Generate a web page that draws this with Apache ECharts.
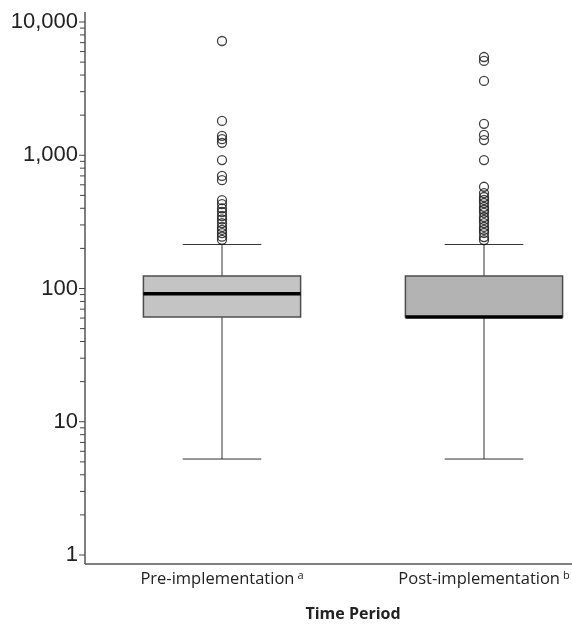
<!DOCTYPE html>
<html>
<head>
<meta charset="utf-8">
<title>Time Period boxplot</title>
<script src="https://cdn.jsdelivr.net/npm/echarts@6/dist/echarts.min.js"></script>
<style>
  html, body { margin: 0; padding: 0; background: #fff; }
  #chart { width: 572px; height: 630px; }
</style>
</head>
<body>
<div id="chart"></div>
<script>
// categories and footnote marks
var categories = ['Pre-implementation', 'Post-implementation'];
var footnotes = ['a', 'b'];
// [lower whisker, Q1, median, Q3, upper whisker]
var preStats = [5.25, 61, 91.5, 124, 214];
var postStats = [5.25, 61, 61, 124, 214];
// outliers
var preOutliers = [7200, 1810, 1400, 1320, 1240, 920, 700, 650, 460, 430, 400, 375, 350, 330, 310, 290, 275, 260, 245, 232];
var postOutliers = [5460, 5100, 3610, 1720, 1420, 1300, 920, 580, 520, 486, 462, 438, 410, 390, 370, 344, 327, 310, 290, 275, 261, 243, 231];
// y axis ticks
var yTicks = [1, 10, 100, 1000, 10000];
var minorSteps = [2, 3, 4, 5, 6, 7, 8, 9];

var boxFills = ['#c4c4c4', '#b3b3b3'];

var boxData = [[0].concat(preStats), [1].concat(postStats)];
var majorTicks = yTicks.map(function (v) { return [0, v]; });
var minorTicks = [];
yTicks.slice(0, -1).forEach(function (d) {
  minorSteps.forEach(function (m) { minorTicks.push([0, d * m]); });
});

function renderBox(params, api) {
  var i = api.value(0);
  var lo = api.coord([i, api.value(1)]);
  var q1 = api.coord([i, api.value(2)]);
  var md = api.coord([i, api.value(3)]);
  var q3 = api.coord([i, api.value(4)]);
  var hi = api.coord([i, api.value(5)]);
  var w = api.size([1, 0])[0] * 0.6;
  var cx = lo[0];
  var ln = { stroke: '#333', lineWidth: 1 };
  return {
    type: 'group',
    children: [
      { type: 'line', shape: { x1: cx, y1: hi[1], x2: cx, y2: q3[1] }, style: ln },
      { type: 'line', shape: { x1: cx, y1: q1[1], x2: cx, y2: lo[1] }, style: ln },
      { type: 'line', shape: { x1: cx - w / 4, y1: hi[1], x2: cx + w / 4, y2: hi[1] }, style: ln },
      { type: 'line', shape: { x1: cx - w / 4, y1: lo[1], x2: cx + w / 4, y2: lo[1] }, style: ln },
      { type: 'rect', shape: { x: cx - w / 2, y: q3[1], width: w, height: q1[1] - q3[1] },
        style: { fill: boxFills[params.dataIndex], stroke: '#4d4d4d', lineWidth: 1.5 } },
      { type: 'line', shape: { x1: cx - w / 2, y1: md[1], x2: cx + w / 2, y2: md[1] },
        style: { stroke: '#000', lineWidth: 3.5 } }
    ]
  };
}

function tickRenderer(len) {
  return function (params, api) {
    var p = api.coord([0, api.value(1)]);
    var ax = params.coordSys.x - 6;
    return { type: 'line', shape: { x1: ax - len, y1: p[1], x2: ax, y2: p[1] },
      style: { stroke: '#444', lineWidth: 1 } };
  };
}

// the L shaped axis frame, which runs a bit past the plot area
function renderFrame(params, api) {
  var cs = params.coordSys;
  var ax = cs.x - 6;
  var bottom = cs.y + cs.height + 9;
  return {
    type: 'group',
    children: [
      { type: 'line', shape: { x1: ax, y1: cs.y - 10, x2: ax, y2: bottom }, style: { stroke: '#555', lineWidth: 1.5 } },
      { type: 'line', shape: { x1: ax, y1: bottom, x2: cs.x + cs.width, y2: bottom }, style: { stroke: '#555', lineWidth: 1.5 } }
    ]
  };
}

var chart = echarts.init(document.getElementById('chart'));
var outlierStyle = { color: 'rgba(0,0,0,0)', borderColor: '#111', borderWidth: 1.3 };

chart.setOption({
  animation: false,
  grid: { left: 91, width: 524, top: 22, bottom: 75, containLabel: false, outerBoundsMode: 'none' },
  xAxis: {
    type: 'category',
    data: categories,
    axisLine: { show: false },
    axisTick: { show: false },
    axisLabel: {
      margin: 15,
      formatter: function (v, idx) { return '{t|' + v + '}{s|' + footnotes[idx] + '}'; },
      rich: {
        t: { fontFamily: 'Open Sans', fontSize: 16.5, color: '#222' },
        s: { fontFamily: 'Open Sans', fontSize: 11, color: '#222', padding: [0, 0, 8, 3] }
      }
    },
    name: 'Time Period',
    nameLocation: 'middle',
    nameGap: 51,
    nameTextStyle: { fontFamily: 'Open Sans', fontSize: 16, fontWeight: 'bold', color: '#222' }
  },
  yAxis: {
    type: 'log',
    logBase: 10,
    min: 1,
    max: 10000,
    axisLine: { show: false },
    axisTick: { show: false },
    splitLine: { show: false },
    axisLabel: {
      margin: 13,
      fontFamily: 'Liberation Sans',
      fontSize: 22,
      color: '#222',
      formatter: function (v) { return Math.round(v).toLocaleString('en-US'); }
    }
  },
  series: [
    { type: 'custom', renderItem: renderFrame, data: [[0, 1]], silent: true, z: 1 },
    { type: 'custom', renderItem: tickRenderer(6), data: majorTicks, silent: true, z: 1 },
    { type: 'custom', renderItem: tickRenderer(5), data: minorTicks, silent: true, z: 1 },
    { type: 'custom', renderItem: renderBox, data: boxData, encode: { x: 0, y: [1, 2, 3, 4, 5] }, z: 2 },
    { type: 'scatter', data: preOutliers.map(function (v) { return [0, v]; }),
      symbol: 'circle', symbolSize: 9, itemStyle: outlierStyle, z: 3 },
    { type: 'scatter', data: postOutliers.map(function (v) { return [1, v]; }),
      symbol: 'circle', symbolSize: 9, itemStyle: outlierStyle, z: 3 }
  ]
});
</script>
</body>
</html>
